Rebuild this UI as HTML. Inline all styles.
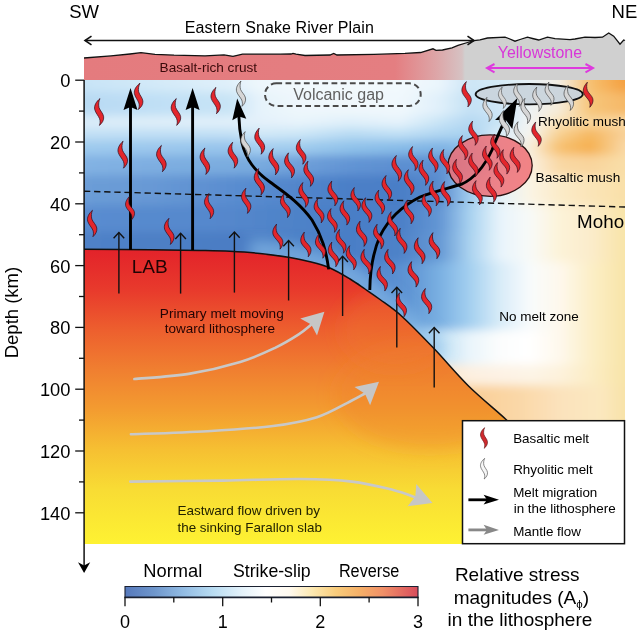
<!DOCTYPE html>
<html><head><meta charset="utf-8"><title>Snake River Plain lithosphere</title>
<style>html,body{margin:0;padding:0;background:#fff;}svg{display:block;}</style>
</head><body>
<svg width="640" height="633" viewBox="0 0 640 633" font-family="'Liberation Sans', Arial, sans-serif">
<defs>
 <filter id="blur1" x="-20%" y="-20%" width="140%" height="140%"><feGaussianBlur stdDeviation="9"/></filter>
 <filter id="blur2" x="-20%" y="-20%" width="140%" height="140%"><feGaussianBlur stdDeviation="5"/></filter>
 <filter id="blur3" x="-20%" y="-20%" width="140%" height="140%"><feGaussianBlur stdDeviation="7"/></filter>
 <clipPath id="plotclip"><rect x="84" y="80" width="541" height="464"/></clipPath>
 <linearGradient id="crustg" x1="84" y1="0" x2="625" y2="0" gradientUnits="userSpaceOnUse">
   <stop offset="0" stop-color="#e47b7e"/>
   <stop offset="0.5749" stop-color="#e47e81"/>
   <stop offset="0.6525" stop-color="#dda6a8"/>
   <stop offset="0.6987" stop-color="#d6c2c3"/>
   <stop offset="0.7042" stop-color="#d0d0d0"/>
   <stop offset="1" stop-color="#d0d0d0"/>
 </linearGradient>
 <linearGradient id="wedgeg" x1="0" y1="250" x2="0" y2="544" gradientUnits="userSpaceOnUse">
   <stop offset="0" stop-color="#e3232a"/>
   <stop offset="0.136" stop-color="#e83a2c"/>
   <stop offset="0.272" stop-color="#ed5f2e"/>
   <stop offset="0.408" stop-color="#f07f30"/>
   <stop offset="0.544" stop-color="#f39c30"/>
   <stop offset="0.68" stop-color="#f6c032"/>
   <stop offset="0.816" stop-color="#f8dc34"/>
   <stop offset="1" stop-color="#fef232"/>
 </linearGradient>
 <linearGradient id="cbarg" x1="125" y1="0" x2="418" y2="0" gradientUnits="userSpaceOnUse">
   <stop offset="0" stop-color="#5679bc"/>
   <stop offset="0.1" stop-color="#6e96cc"/>
   <stop offset="0.2" stop-color="#92bce4"/>
   <stop offset="0.3" stop-color="#b8dcf2"/>
   <stop offset="0.4" stop-color="#e4f2fa"/>
   <stop offset="0.48" stop-color="#ffffff"/>
   <stop offset="0.56" stop-color="#fffaf0"/>
   <stop offset="0.64" stop-color="#fce8b0"/>
   <stop offset="0.72" stop-color="#f8cc7c"/>
   <stop offset="0.8" stop-color="#f5b068"/>
   <stop offset="0.88" stop-color="#f09068"/>
   <stop offset="1" stop-color="#d84c5c"/>
 </linearGradient>
</defs>

<defs><linearGradient id="bg0" x1="84" y1="0" x2="625" y2="0" gradientUnits="userSpaceOnUse"><stop offset="0.0000" stop-color="#c8e4f7"/><stop offset="0.1220" stop-color="#d2e9f8"/><stop offset="0.2699" stop-color="#e0f0fa"/><stop offset="0.3253" stop-color="#eef7fc"/><stop offset="0.3993" stop-color="#f2f9fd"/><stop offset="0.4917" stop-color="#f2f9fd"/><stop offset="0.5841" stop-color="#f2f9fd"/><stop offset="0.6580" stop-color="#eaf5fc"/><stop offset="0.7135" stop-color="#cde5f6"/><stop offset="0.7689" stop-color="#d4eaf7"/><stop offset="0.8244" stop-color="#e8f2f6"/><stop offset="0.8799" stop-color="#f3ede2"/><stop offset="0.9353" stop-color="#f7c070"/><stop offset="1.0000" stop-color="#f4a040"/></linearGradient><linearGradient id="bg1" x1="84" y1="0" x2="625" y2="0" gradientUnits="userSpaceOnUse"><stop offset="0.0000" stop-color="#b8daf3"/><stop offset="0.1220" stop-color="#bfdff5"/><stop offset="0.2699" stop-color="#c8e4f6"/><stop offset="0.3253" stop-color="#e6f3fb"/><stop offset="0.3993" stop-color="#eef7fc"/><stop offset="0.4917" stop-color="#eff7fc"/><stop offset="0.5841" stop-color="#f0f8fd"/><stop offset="0.6580" stop-color="#e0f0fa"/><stop offset="0.7135" stop-color="#c4e1f5"/><stop offset="0.7689" stop-color="#cfe6f6"/><stop offset="0.8244" stop-color="#eef3f4"/><stop offset="0.8799" stop-color="#f6ebd8"/><stop offset="0.9353" stop-color="#f7c67a"/><stop offset="1.0000" stop-color="#f5b868"/></linearGradient><linearGradient id="bg2" x1="84" y1="0" x2="625" y2="0" gradientUnits="userSpaceOnUse"><stop offset="0.0000" stop-color="#dcedf9"/><stop offset="0.1220" stop-color="#e0eff9"/><stop offset="0.2699" stop-color="#e2f0fa"/><stop offset="0.3253" stop-color="#e4f1fa"/><stop offset="0.3993" stop-color="#e8f4fb"/><stop offset="0.4917" stop-color="#dff0fa"/><stop offset="0.5841" stop-color="#e6f3fb"/><stop offset="0.6580" stop-color="#c8e4f6"/><stop offset="0.7135" stop-color="#b4d8f2"/><stop offset="0.7689" stop-color="#c8e4f5"/><stop offset="0.8244" stop-color="#f4f6f4"/><stop offset="0.8799" stop-color="#fae2b6"/><stop offset="0.9353" stop-color="#f8d49a"/><stop offset="1.0000" stop-color="#f9d9a2"/></linearGradient><linearGradient id="bg3" x1="84" y1="0" x2="625" y2="0" gradientUnits="userSpaceOnUse"><stop offset="0.0000" stop-color="#c2e0f5"/><stop offset="0.1220" stop-color="#c0dff5"/><stop offset="0.2699" stop-color="#c2e0f5"/><stop offset="0.3253" stop-color="#d0e8f7"/><stop offset="0.3993" stop-color="#cce6f7"/><stop offset="0.4917" stop-color="#b8dbf3"/><stop offset="0.5841" stop-color="#c0e0f5"/><stop offset="0.6580" stop-color="#b0d6f2"/><stop offset="0.7135" stop-color="#a8d2f0"/><stop offset="0.7689" stop-color="#dcedf8"/><stop offset="0.8244" stop-color="#f6f5f0"/><stop offset="0.8799" stop-color="#f8d090"/><stop offset="0.9353" stop-color="#f6b860"/><stop offset="1.0000" stop-color="#f8d098"/></linearGradient><linearGradient id="bg4" x1="84" y1="0" x2="625" y2="0" gradientUnits="userSpaceOnUse"><stop offset="0.0000" stop-color="#9ecaee"/><stop offset="0.1220" stop-color="#9cc8ed"/><stop offset="0.2699" stop-color="#98c5ec"/><stop offset="0.3253" stop-color="#a6cff0"/><stop offset="0.3993" stop-color="#a0ccee"/><stop offset="0.4917" stop-color="#90c2ea"/><stop offset="0.5841" stop-color="#88bce8"/><stop offset="0.6580" stop-color="#80b4e4"/><stop offset="0.7135" stop-color="#8cbde8"/><stop offset="0.7689" stop-color="#d0e8f7"/><stop offset="0.8244" stop-color="#f9efdc"/><stop offset="0.8799" stop-color="#f7c070"/><stop offset="0.9353" stop-color="#f5b050"/><stop offset="1.0000" stop-color="#f9d8a6"/></linearGradient><linearGradient id="bg5" x1="84" y1="0" x2="625" y2="0" gradientUnits="userSpaceOnUse"><stop offset="0.0000" stop-color="#82b2e3"/><stop offset="0.1220" stop-color="#7eaee1"/><stop offset="0.2699" stop-color="#7aacdf"/><stop offset="0.3253" stop-color="#78aadf"/><stop offset="0.3993" stop-color="#6e9fd9"/><stop offset="0.4917" stop-color="#6294d4"/><stop offset="0.5841" stop-color="#5c8fd1"/><stop offset="0.6580" stop-color="#5e90d2"/><stop offset="0.7135" stop-color="#80b4e4"/><stop offset="0.7689" stop-color="#cfe7f7"/><stop offset="0.8244" stop-color="#faf0e0"/><stop offset="0.8799" stop-color="#f9d8a4"/><stop offset="0.9353" stop-color="#f9d49c"/><stop offset="1.0000" stop-color="#f9dea8"/></linearGradient><linearGradient id="bg6" x1="84" y1="0" x2="625" y2="0" gradientUnits="userSpaceOnUse"><stop offset="0.0000" stop-color="#6c9dd7"/><stop offset="0.1220" stop-color="#6899d5"/><stop offset="0.2699" stop-color="#5a8dd0"/><stop offset="0.3253" stop-color="#568ace"/><stop offset="0.3993" stop-color="#5185cb"/><stop offset="0.4917" stop-color="#4b7fc7"/><stop offset="0.5841" stop-color="#4a7ec6"/><stop offset="0.6580" stop-color="#5a8ccf"/><stop offset="0.7135" stop-color="#a0ccee"/><stop offset="0.7689" stop-color="#e4f2fa"/><stop offset="0.8244" stop-color="#fbf4e4"/><stop offset="0.8799" stop-color="#fbebc8"/><stop offset="0.9353" stop-color="#fae4b8"/><stop offset="1.0000" stop-color="#f9e0a8"/></linearGradient><linearGradient id="bg7" x1="84" y1="0" x2="625" y2="0" gradientUnits="userSpaceOnUse"><stop offset="0.0000" stop-color="#5a8cd0"/><stop offset="0.1220" stop-color="#578ace"/><stop offset="0.2699" stop-color="#5487cc"/><stop offset="0.3253" stop-color="#5185ca"/><stop offset="0.3993" stop-color="#4e82c8"/><stop offset="0.4917" stop-color="#4a7ec6"/><stop offset="0.5841" stop-color="#4b7fc7"/><stop offset="0.6580" stop-color="#6396d4"/><stop offset="0.7135" stop-color="#a8d2f0"/><stop offset="0.7689" stop-color="#e8f4fb"/><stop offset="0.8244" stop-color="#f8faf8"/><stop offset="0.8799" stop-color="#fdf3d8"/><stop offset="0.9353" stop-color="#fbeccc"/><stop offset="1.0000" stop-color="#f8e4a8"/></linearGradient><linearGradient id="bg8" x1="84" y1="0" x2="625" y2="0" gradientUnits="userSpaceOnUse"><stop offset="0.0000" stop-color="#4f81c7"/><stop offset="0.1220" stop-color="#4d7fc5"/><stop offset="0.2699" stop-color="#4b7dc4"/><stop offset="0.3253" stop-color="#4b7ec5"/><stop offset="0.3993" stop-color="#4c80c6"/><stop offset="0.4917" stop-color="#4a7ec6"/><stop offset="0.5841" stop-color="#4e82c8"/><stop offset="0.6580" stop-color="#6699d5"/><stop offset="0.7135" stop-color="#aad3f0"/><stop offset="0.7689" stop-color="#e8f4fb"/><stop offset="0.8244" stop-color="#f8faf8"/><stop offset="0.8799" stop-color="#fdf3d8"/><stop offset="0.9353" stop-color="#fbeccc"/><stop offset="1.0000" stop-color="#f8e4a8"/></linearGradient><linearGradient id="bg9" x1="84" y1="0" x2="625" y2="0" gradientUnits="userSpaceOnUse"><stop offset="0.0000" stop-color="#5588cd"/><stop offset="0.3993" stop-color="#5185cb"/><stop offset="0.5471" stop-color="#5488ce"/><stop offset="0.6026" stop-color="#5f95d4"/><stop offset="0.6580" stop-color="#7ab0e2"/><stop offset="0.7135" stop-color="#a4d0f0"/><stop offset="0.7689" stop-color="#d8ecf8"/><stop offset="0.8244" stop-color="#f8fbfc"/><stop offset="0.8799" stop-color="#fef8ec"/><stop offset="0.9353" stop-color="#fcefc8"/><stop offset="1.0000" stop-color="#f8e4a8"/></linearGradient><linearGradient id="bg10" x1="84" y1="0" x2="625" y2="0" gradientUnits="userSpaceOnUse"><stop offset="0.0000" stop-color="#9ccaee"/><stop offset="0.5841" stop-color="#94c4ec"/><stop offset="0.6580" stop-color="#c4e2f5"/><stop offset="0.7135" stop-color="#eaf5fb"/><stop offset="0.7689" stop-color="#fcfdfd"/><stop offset="0.8244" stop-color="#ffffff"/><stop offset="0.8799" stop-color="#fef8ec"/><stop offset="0.9353" stop-color="#fcefc8"/><stop offset="1.0000" stop-color="#f8e4a8"/></linearGradient><linearGradient id="bg11" x1="84" y1="0" x2="625" y2="0" gradientUnits="userSpaceOnUse"><stop offset="0.0000" stop-color="#f9d29a"/><stop offset="0.6580" stop-color="#fbe6cc"/><stop offset="0.7135" stop-color="#fdf0e0"/><stop offset="0.7689" stop-color="#fdf2e4"/><stop offset="0.8244" stop-color="#fdf4e6"/><stop offset="0.8799" stop-color="#fdf2dc"/><stop offset="0.9353" stop-color="#fcedc6"/><stop offset="1.0000" stop-color="#f8e4a8"/></linearGradient><linearGradient id="bg12" x1="84" y1="0" x2="625" y2="0" gradientUnits="userSpaceOnUse"><stop offset="0.0000" stop-color="#f9d29a"/><stop offset="0.6580" stop-color="#f9d29a"/><stop offset="0.7320" stop-color="#f9d09a"/><stop offset="0.8059" stop-color="#fad8a8"/><stop offset="0.8799" stop-color="#fbe2bc"/><stop offset="0.9538" stop-color="#fbe8c0"/><stop offset="1.0000" stop-color="#f8e2a8"/></linearGradient></defs>
<g clip-path="url(#plotclip)"><g filter="url(#blur2)"><rect x="40" y="40" width="640" height="52" fill="url(#bg0)"/><rect x="40" y="92" width="640" height="24" fill="url(#bg1)"/><rect x="40" y="116" width="640" height="12" fill="url(#bg2)"/><rect x="40" y="128" width="640" height="12" fill="url(#bg3)"/><rect x="40" y="140" width="640" height="15" fill="url(#bg4)"/><rect x="40" y="155" width="640" height="20" fill="url(#bg5)"/><rect x="40" y="175" width="640" height="30" fill="url(#bg6)"/><rect x="40" y="205" width="640" height="27" fill="url(#bg7)"/><rect x="40" y="232" width="640" height="30" fill="url(#bg8)"/><rect x="40" y="262" width="640" height="68" fill="url(#bg9)"/><rect x="40" y="330" width="640" height="35" fill="url(#bg10)"/><rect x="40" y="365" width="640" height="20" fill="url(#bg11)"/><rect x="40" y="385" width="640" height="175" fill="url(#bg12)"/></g><path d="M250,250 C256.7,250.8 276.7,252.3 290,255 C303.3,257.7 317.5,260.8 330,266 C342.5,271.2 353.3,277.7 365,286 C376.7,294.3 387.5,304.5 400,316 C412.5,327.5 433.3,348.5 440,355" fill="none" stroke="#8cc0ea" stroke-width="22" stroke-opacity="0.6" filter="url(#blur3)"/></g>
<path d="M84,249.2 C95.0,249.3 130.7,249.6 150,249.8 C169.3,250.0 186.7,250.2 200,250.4 C213.3,250.7 220.0,250.8 230,251.3 C240.0,251.8 250.0,252.4 260,253.5 C270.0,254.6 281.7,256.2 290,257.6 C298.3,259.0 303.3,260.1 310,261.8 C316.7,263.5 323.3,265.1 330,268 C336.7,270.9 344.2,275.5 350,279 C355.8,282.5 360.0,285.6 365,289 C370.0,292.4 373.8,294.9 380,299.5 C386.2,304.1 393.0,308.3 402,316.5 C411.0,324.7 422.9,337.0 434,348.6 C445.1,360.2 456.5,374.2 468.5,386 C480.5,397.8 495.8,410.0 506,419.5 C516.2,429.0 521.0,434.6 530,443 C539.0,451.4 555.0,465.5 560,470 L640,560 L625,544 L84,544 Z" fill="url(#wedgeg)" clip-path="url(#plotclip)"/>
<clipPath id="wedgeclip"><path d="M84,249.2 C95.0,249.3 130.7,249.6 150,249.8 C169.3,250.0 186.7,250.2 200,250.4 C213.3,250.7 220.0,250.8 230,251.3 C240.0,251.8 250.0,252.4 260,253.5 C270.0,254.6 281.7,256.2 290,257.6 C298.3,259.0 303.3,260.1 310,261.8 C316.7,263.5 323.3,265.1 330,268 C336.7,270.9 344.2,275.5 350,279 C355.8,282.5 360.0,285.6 365,289 C370.0,292.4 373.8,294.9 380,299.5 C386.2,304.1 393.0,308.3 402,316.5 C411.0,324.7 422.9,337.0 434,348.6 C445.1,360.2 456.5,374.2 468.5,386 C480.5,397.8 495.8,410.0 506,419.5 C516.2,429.0 521.0,434.6 530,443 C539.0,451.4 555.0,465.5 560,470 L640,560 L625,544 L84,544 Z"/></clipPath>
<g clip-path="url(#wedgeclip)"><ellipse cx="430" cy="395" rx="95" ry="55" fill="#ef7e2c" fill-opacity="0.35" filter="url(#blur1)"/><ellipse cx="395" cy="330" rx="55" ry="40" fill="#f07a30" fill-opacity="0.3" filter="url(#blur1)"/></g>
<path d="M84,249.2 C95.0,249.3 130.7,249.6 150,249.8 C169.3,250.0 186.7,250.2 200,250.4 C213.3,250.7 220.0,250.8 230,251.3 C240.0,251.8 250.0,252.4 260,253.5 C270.0,254.6 281.7,256.2 290,257.6 C298.3,259.0 303.3,260.1 310,261.8 C316.7,263.5 323.3,265.1 330,268 C336.7,270.9 344.2,275.5 350,279 C355.8,282.5 360.0,285.6 365,289 C370.0,292.4 373.8,294.9 380,299.5 C386.2,304.1 393.0,308.3 402,316.5 C411.0,324.7 422.9,337.0 434,348.6 C445.1,360.2 456.5,374.2 468.5,386 C480.5,397.8 495.8,410.0 506,419.5 C516.2,429.0 521.0,434.6 530,443 C539.0,451.4 555.0,465.5 560,470 L640,560" fill="none" stroke="#111" stroke-width="1.5" clip-path="url(#plotclip)"/>
<path d="M84,58 L111,55.9 L130,54 L141,52.7 L155,54.3 L174,55.2 L205,55.9 L224,54.9 L233,56.3 L242.5,54.2 L280,54.2 L291,54 L293,53.4 L296,54.2 L305,55.5 L330,55 L333.7,53.5 L337,55 L374,54.4 L405,53.4 L420.6,52.5 L433,48.8 L436,50.3 L442.5,50 L452,47.8 L458,45.3 L467.5,42.5 L474,40.6 L480,39.8 L487.5,38 L505,37.2 L508.7,38.5 L515,41.2 L520,39.5 L527.5,37.2 L532.5,38.5 L538.7,40 L547.5,37.2 L555,38.7 L570,39.7 L575,39 L585,37.2 L595,37.5 L602.5,37.2 L608.7,33 L613.7,36.2 L620,44.2 L623.7,40 L625,40.5 L625,80 L84,80 Z" fill="url(#crustg)"/>
<path d="M84,58 L111,55.9 L130,54 L141,52.7 L155,54.3 L174,55.2 L205,55.9 L224,54.9 L233,56.3 L242.5,54.2 L280,54.2 L291,54 L293,53.4 L296,54.2 L305,55.5 L330,55 L333.7,53.5 L337,55 L374,54.4 L405,53.4 L420.6,52.5 L433,48.8 L436,50.3 L442.5,50 L452,47.8 L458,45.3 L467.5,42.5 L474,40.6 L480,39.8 L487.5,38 L505,37.2 L508.7,38.5 L515,41.2 L520,39.5 L527.5,37.2 L532.5,38.5 L538.7,40 L547.5,37.2 L555,38.7 L570,39.7 L575,39 L585,37.2 L595,37.5 L602.5,37.2 L608.7,33 L613.7,36.2 L620,44.2 L623.7,40 L625,40.5" fill="none" stroke="#111" stroke-width="1.3"/>
<line x1="84" y1="191.2" x2="625" y2="207" stroke="#111" stroke-width="1.4" stroke-dasharray="6.3,3.8"/>
<rect x="265" y="83.3" width="155.7" height="22.6" rx="11.3" fill="none" stroke="#4a4a4a" stroke-width="2" stroke-dasharray="5.8,3.4"/>
<ellipse cx="490.1" cy="165.6" rx="42.1" ry="30.7" fill="#f06e74" fill-opacity="0.84" stroke="#2a1010" stroke-width="1.3"/>
<ellipse cx="529.2" cy="94.2" rx="53.6" ry="10.2" fill="#c9d4dc" fill-opacity="0.95" stroke="#111" stroke-width="1.8"/>
<line x1="118.9" y1="232.8" x2="118.9" y2="293.5" stroke="#111" stroke-width="1.4"/>
<path d="M113.6,238.3 L118.9,232.6 L124.2,238.3" fill="none" stroke="#111" stroke-width="1.4"/>
<line x1="180.6" y1="233.5" x2="180.6" y2="293.6" stroke="#111" stroke-width="1.4"/>
<path d="M175.3,239.0 L180.6,233.3 L185.9,239.0" fill="none" stroke="#111" stroke-width="1.4"/>
<line x1="234.4" y1="232.3" x2="234.4" y2="292.6" stroke="#111" stroke-width="1.4"/>
<path d="M229.1,237.8 L234.4,232.1 L239.7,237.8" fill="none" stroke="#111" stroke-width="1.4"/>
<line x1="288.6" y1="240.8" x2="288.6" y2="300.5" stroke="#111" stroke-width="1.4"/>
<path d="M283.3,246.3 L288.6,240.6 L293.9,246.3" fill="none" stroke="#111" stroke-width="1.4"/>
<line x1="342.6" y1="256.5" x2="342.6" y2="316" stroke="#111" stroke-width="1.4"/>
<path d="M337.3,262.0 L342.6,256.3 L347.9,262.0" fill="none" stroke="#111" stroke-width="1.4"/>
<line x1="396.8" y1="287.5" x2="396.8" y2="347.5" stroke="#111" stroke-width="1.4"/>
<path d="M391.5,293.0 L396.8,287.3 L402.1,293.0" fill="none" stroke="#111" stroke-width="1.4"/>
<line x1="434.2" y1="327.8" x2="434.2" y2="387.5" stroke="#111" stroke-width="1.4"/>
<path d="M428.9,333.3 L434.2,327.6 L439.5,333.3" fill="none" stroke="#111" stroke-width="1.4"/>
<path d="M134.4,379 C143.4,378.1 171.0,376.8 188.7,373.9 C206.3,371.0 226.0,366.2 240.3,361.9 C254.6,357.6 264.9,352.7 274.6,348.1 C284.3,343.5 292.5,338.4 298.7,334.4 C304.9,330.4 309.8,325.7 312,324" fill="none" stroke="#c8c8c8" stroke-width="2.6" stroke-linecap="round"/>
<path d="M324.4,311.7 L317.0,335.6 L311.2,324.5 L300.3,318.4 Z" fill="#c6c6c6"/>
<path d="M130.9,434.3 C143.7,433.8 183.8,432.6 207.5,431.2 C231.2,429.8 254.9,428.3 273.1,426 C291.3,423.7 304.5,421.1 316.9,417.2 C329.3,413.3 339.3,406.8 347.5,402.8 C355.7,398.8 362.9,394.6 366,393" fill="none" stroke="#c8c8c8" stroke-width="2.6" stroke-linecap="round"/>
<path d="M379.0,381.8 L370.1,405.2 L365.0,393.8 L354.5,387.0 Z" fill="#c6c6c6"/>
<path d="M130.3,481.6 C145.8,481.4 194.7,481.0 223,480.6 C251.3,480.2 278.9,478.8 300.4,479 C321.9,479.2 336.5,479.8 352,481.6 C367.5,483.4 382.6,487.4 393.2,490 C403.8,492.6 411.8,496.2 415.5,497.5" fill="none" stroke="#c8c8c8" stroke-width="2.6" stroke-linecap="round"/>
<path d="M432.5,503.1 L407.6,506.3 L415.3,496.4 L416.3,483.9 Z" fill="#c6c6c6"/>
<line x1="130.5" y1="250" x2="130.5" y2="104" stroke="#000" stroke-width="2.9"/>
<path d="M130.5,88.0 L137.5,110.0 L130.5,107.0 L123.5,110.0 Z" fill="#000"/>
<line x1="192.6" y1="250" x2="192.6" y2="104" stroke="#000" stroke-width="2.9"/>
<path d="M192.6,88.0 L199.6,110.0 L192.6,107.0 L185.6,110.0 Z" fill="#000"/>
<path d="M328.7,269.4 C326,250 322,236 312,220 C300,203 285,193 270,182 C255,171 246,160 242,143 C240,133 239,124 238.8,115" fill="none" stroke="#000" stroke-width="2.9"/>
<path d="M237.2,98.6 L246.3,118.8 L239.0,116.5 L232.3,120.2 Z" fill="#000"/>
<path d="M369.8,290 C370,270 374,250 380,236 C388,220 400,207 420,197 C435,191 450,188 462,184 C475,178 485,165 492,150 C496,140 500,130 505.1,120" fill="none" stroke="#000" stroke-width="2.9"/>
<path d="M517.4,97.9 L512.3,129.0 L505.9,120.1 L495.0,120.1 Z" fill="#000"/>
<path transform="translate(99.4,112.0) rotate(-0.0) scale(0.993)" d="M0.6,-13.5 C-3,-10.6 -5.6,-6.6 -4.7,-2.5 C-3.9,0.8 -1,3.8 0.2,6.8 C1,9.2 0.8,11.5 0,13.5 C2.9,11.2 4.7,8 4.3,4.8 C3.9,1.5 0.7,-1.2 -0.4,-4.5 C-1.1,-7.5 -0.7,-11 0.6,-13.5 Z" fill="#e3262c" stroke="#2c0c1c" stroke-width="0.7"/>
<path transform="translate(138.9,96.3) rotate(2.2) scale(0.974)" d="M0.6,-13.5 C-3,-10.6 -5.6,-6.6 -4.7,-2.5 C-3.9,0.8 -1,3.8 0.2,6.8 C1,9.2 0.8,11.5 0,13.5 C2.9,11.2 4.7,8 4.3,4.8 C3.9,1.5 0.7,-1.2 -0.4,-4.5 C-1.1,-7.5 -0.7,-11 0.6,-13.5 Z" fill="#e3262c" stroke="#2c0c1c" stroke-width="0.7"/>
<path transform="translate(176.2,112.0) rotate(-2.1) scale(0.993)" d="M0.6,-13.5 C-3,-10.6 -5.6,-6.6 -4.7,-2.5 C-3.9,0.8 -1,3.8 0.2,6.8 C1,9.2 0.8,11.5 0,13.5 C2.9,11.2 4.7,8 4.3,4.8 C3.9,1.5 0.7,-1.2 -0.4,-4.5 C-1.1,-7.5 -0.7,-11 0.6,-13.5 Z" fill="#e3262c" stroke="#2c0c1c" stroke-width="0.7"/>
<path transform="translate(215.9,100.6) rotate(-2.2) scale(0.978)" d="M0.6,-13.5 C-3,-10.6 -5.6,-6.6 -4.7,-2.5 C-3.9,0.8 -1,3.8 0.2,6.8 C1,9.2 0.8,11.5 0,13.5 C2.9,11.2 4.7,8 4.3,4.8 C3.9,1.5 0.7,-1.2 -0.4,-4.5 C-1.1,-7.5 -0.7,-11 0.6,-13.5 Z" fill="#e3262c" stroke="#2c0c1c" stroke-width="0.7"/>
<path transform="translate(123.0,154.7) rotate(-2.1) scale(1.000)" d="M0.6,-13.5 C-3,-10.6 -5.6,-6.6 -4.7,-2.5 C-3.9,0.8 -1,3.8 0.2,6.8 C1,9.2 0.8,11.5 0,13.5 C2.9,11.2 4.7,8 4.3,4.8 C3.9,1.5 0.7,-1.2 -0.4,-4.5 C-1.1,-7.5 -0.7,-11 0.6,-13.5 Z" fill="#e3262c" stroke="#2c0c1c" stroke-width="0.7"/>
<path transform="translate(161.6,158.6) rotate(-3.3) scale(0.978)" d="M0.6,-13.5 C-3,-10.6 -5.6,-6.6 -4.7,-2.5 C-3.9,0.8 -1,3.8 0.2,6.8 C1,9.2 0.8,11.5 0,13.5 C2.9,11.2 4.7,8 4.3,4.8 C3.9,1.5 0.7,-1.2 -0.4,-4.5 C-1.1,-7.5 -0.7,-11 0.6,-13.5 Z" fill="#e3262c" stroke="#2c0c1c" stroke-width="0.7"/>
<path transform="translate(205.1,161.2) rotate(-3.2) scale(0.981)" d="M0.6,-13.5 C-3,-10.6 -5.6,-6.6 -4.7,-2.5 C-3.9,0.8 -1,3.8 0.2,6.8 C1,9.2 0.8,11.5 0,13.5 C2.9,11.2 4.7,8 4.3,4.8 C3.9,1.5 0.7,-1.2 -0.4,-4.5 C-1.1,-7.5 -0.7,-11 0.6,-13.5 Z" fill="#e3262c" stroke="#2c0c1c" stroke-width="0.7"/>
<path transform="translate(92.4,223.5) rotate(-2.2) scale(0.978)" d="M0.6,-13.5 C-3,-10.6 -5.6,-6.6 -4.7,-2.5 C-3.9,0.8 -1,3.8 0.2,6.8 C1,9.2 0.8,11.5 0,13.5 C2.9,11.2 4.7,8 4.3,4.8 C3.9,1.5 0.7,-1.2 -0.4,-4.5 C-1.1,-7.5 -0.7,-11 0.6,-13.5 Z" fill="#e3262c" stroke="#2c0c1c" stroke-width="0.7"/>
<path transform="translate(130.2,208.2) rotate(-7.4) scale(0.859)" d="M0.6,-13.5 C-3,-10.6 -5.6,-6.6 -4.7,-2.5 C-3.9,0.8 -1,3.8 0.2,6.8 C1,9.2 0.8,11.5 0,13.5 C2.9,11.2 4.7,8 4.3,4.8 C3.9,1.5 0.7,-1.2 -0.4,-4.5 C-1.1,-7.5 -0.7,-11 0.6,-13.5 Z" fill="#e3262c" stroke="#2c0c1c" stroke-width="0.7"/>
<path transform="translate(169.4,231.4) rotate(-4.4) scale(0.970)" d="M0.6,-13.5 C-3,-10.6 -5.6,-6.6 -4.7,-2.5 C-3.9,0.8 -1,3.8 0.2,6.8 C1,9.2 0.8,11.5 0,13.5 C2.9,11.2 4.7,8 4.3,4.8 C3.9,1.5 0.7,-1.2 -0.4,-4.5 C-1.1,-7.5 -0.7,-11 0.6,-13.5 Z" fill="#e3262c" stroke="#2c0c1c" stroke-width="0.7"/>
<path transform="translate(209.3,206.1) rotate(-3.4) scale(0.941)" d="M0.6,-13.5 C-3,-10.6 -5.6,-6.6 -4.7,-2.5 C-3.9,0.8 -1,3.8 0.2,6.8 C1,9.2 0.8,11.5 0,13.5 C2.9,11.2 4.7,8 4.3,4.8 C3.9,1.5 0.7,-1.2 -0.4,-4.5 C-1.1,-7.5 -0.7,-11 0.6,-13.5 Z" fill="#e3262c" stroke="#2c0c1c" stroke-width="0.7"/>
<path transform="translate(233.1,155.2) rotate(-4.4) scale(0.963)" d="M0.6,-13.5 C-3,-10.6 -5.6,-6.6 -4.7,-2.5 C-3.9,0.8 -1,3.8 0.2,6.8 C1,9.2 0.8,11.5 0,13.5 C2.9,11.2 4.7,8 4.3,4.8 C3.9,1.5 0.7,-1.2 -0.4,-4.5 C-1.1,-7.5 -0.7,-11 0.6,-13.5 Z" fill="#e3262c" stroke="#2c0c1c" stroke-width="0.7"/>
<path transform="translate(259.9,141.2) rotate(-5.5) scale(0.970)" d="M0.6,-13.5 C-3,-10.6 -5.6,-6.6 -4.7,-2.5 C-3.9,0.8 -1,3.8 0.2,6.8 C1,9.2 0.8,11.5 0,13.5 C2.9,11.2 4.7,8 4.3,4.8 C3.9,1.5 0.7,-1.2 -0.4,-4.5 C-1.1,-7.5 -0.7,-11 0.6,-13.5 Z" fill="#e3262c" stroke="#2c0c1c" stroke-width="0.7"/>
<path transform="translate(274.0,161.8) rotate(-5.8) scale(0.978)" d="M0.6,-13.5 C-3,-10.6 -5.6,-6.6 -4.7,-2.5 C-3.9,0.8 -1,3.8 0.2,6.8 C1,9.2 0.8,11.5 0,13.5 C2.9,11.2 4.7,8 4.3,4.8 C3.9,1.5 0.7,-1.2 -0.4,-4.5 C-1.1,-7.5 -0.7,-11 0.6,-13.5 Z" fill="#e3262c" stroke="#2c0c1c" stroke-width="0.7"/>
<path transform="translate(289.7,165.4) rotate(-7.9) scale(0.933)" d="M0.6,-13.5 C-3,-10.6 -5.6,-6.6 -4.7,-2.5 C-3.9,0.8 -1,3.8 0.2,6.8 C1,9.2 0.8,11.5 0,13.5 C2.9,11.2 4.7,8 4.3,4.8 C3.9,1.5 0.7,-1.2 -0.4,-4.5 C-1.1,-7.5 -0.7,-11 0.6,-13.5 Z" fill="#e3262c" stroke="#2c0c1c" stroke-width="0.7"/>
<path transform="translate(301.3,151.9) rotate(-6.9) scale(0.922)" d="M0.6,-13.5 C-3,-10.6 -5.6,-6.6 -4.7,-2.5 C-3.9,0.8 -1,3.8 0.2,6.8 C1,9.2 0.8,11.5 0,13.5 C2.9,11.2 4.7,8 4.3,4.8 C3.9,1.5 0.7,-1.2 -0.4,-4.5 C-1.1,-7.5 -0.7,-11 0.6,-13.5 Z" fill="#e3262c" stroke="#2c0c1c" stroke-width="0.7"/>
<path transform="translate(308.9,173.8) rotate(-6.8) scale(0.937)" d="M0.6,-13.5 C-3,-10.6 -5.6,-6.6 -4.7,-2.5 C-3.9,0.8 -1,3.8 0.2,6.8 C1,9.2 0.8,11.5 0,13.5 C2.9,11.2 4.7,8 4.3,4.8 C3.9,1.5 0.7,-1.2 -0.4,-4.5 C-1.1,-7.5 -0.7,-11 0.6,-13.5 Z" fill="#e3262c" stroke="#2c0c1c" stroke-width="0.7"/>
<path transform="translate(259.5,181.8) rotate(-6.5) scale(0.978)" d="M0.6,-13.5 C-3,-10.6 -5.6,-6.6 -4.7,-2.5 C-3.9,0.8 -1,3.8 0.2,6.8 C1,9.2 0.8,11.5 0,13.5 C2.9,11.2 4.7,8 4.3,4.8 C3.9,1.5 0.7,-1.2 -0.4,-4.5 C-1.1,-7.5 -0.7,-11 0.6,-13.5 Z" fill="#e3262c" stroke="#2c0c1c" stroke-width="0.7"/>
<path transform="translate(246.4,200.8) rotate(-4.5) scale(0.937)" d="M0.6,-13.5 C-3,-10.6 -5.6,-6.6 -4.7,-2.5 C-3.9,0.8 -1,3.8 0.2,6.8 C1,9.2 0.8,11.5 0,13.5 C2.9,11.2 4.7,8 4.3,4.8 C3.9,1.5 0.7,-1.2 -0.4,-4.5 C-1.1,-7.5 -0.7,-11 0.6,-13.5 Z" fill="#e3262c" stroke="#2c0c1c" stroke-width="0.7"/>
<path transform="translate(285.5,205.6) rotate(-9.3) scale(0.900)" d="M0.6,-13.5 C-3,-10.6 -5.6,-6.6 -4.7,-2.5 C-3.9,0.8 -1,3.8 0.2,6.8 C1,9.2 0.8,11.5 0,13.5 C2.9,11.2 4.7,8 4.3,4.8 C3.9,1.5 0.7,-1.2 -0.4,-4.5 C-1.1,-7.5 -0.7,-11 0.6,-13.5 Z" fill="#e3262c" stroke="#2c0c1c" stroke-width="0.7"/>
<path transform="translate(303.8,195.0) rotate(-6.8) scale(0.926)" d="M0.6,-13.5 C-3,-10.6 -5.6,-6.6 -4.7,-2.5 C-3.9,0.8 -1,3.8 0.2,6.8 C1,9.2 0.8,11.5 0,13.5 C2.9,11.2 4.7,8 4.3,4.8 C3.9,1.5 0.7,-1.2 -0.4,-4.5 C-1.1,-7.5 -0.7,-11 0.6,-13.5 Z" fill="#e3262c" stroke="#2c0c1c" stroke-width="0.7"/>
<path transform="translate(319.2,210.8) rotate(-9.3) scale(0.907)" d="M0.6,-13.5 C-3,-10.6 -5.6,-6.6 -4.7,-2.5 C-3.9,0.8 -1,3.8 0.2,6.8 C1,9.2 0.8,11.5 0,13.5 C2.9,11.2 4.7,8 4.3,4.8 C3.9,1.5 0.7,-1.2 -0.4,-4.5 C-1.1,-7.5 -0.7,-11 0.6,-13.5 Z" fill="#e3262c" stroke="#2c0c1c" stroke-width="0.7"/>
<path transform="translate(333.0,193.5) rotate(-8.0) scale(0.926)" d="M0.6,-13.5 C-3,-10.6 -5.6,-6.6 -4.7,-2.5 C-3.9,0.8 -1,3.8 0.2,6.8 C1,9.2 0.8,11.5 0,13.5 C2.9,11.2 4.7,8 4.3,4.8 C3.9,1.5 0.7,-1.2 -0.4,-4.5 C-1.1,-7.5 -0.7,-11 0.6,-13.5 Z" fill="#e3262c" stroke="#2c0c1c" stroke-width="0.7"/>
<path transform="translate(332.5,220.5) rotate(-9.5) scale(0.889)" d="M0.6,-13.5 C-3,-10.6 -5.6,-6.6 -4.7,-2.5 C-3.9,0.8 -1,3.8 0.2,6.8 C1,9.2 0.8,11.5 0,13.5 C2.9,11.2 4.7,8 4.3,4.8 C3.9,1.5 0.7,-1.2 -0.4,-4.5 C-1.1,-7.5 -0.7,-11 0.6,-13.5 Z" fill="#e3262c" stroke="#2c0c1c" stroke-width="0.7"/>
<path transform="translate(345.0,213.0) rotate(-8.2) scale(0.904)" d="M0.6,-13.5 C-3,-10.6 -5.6,-6.6 -4.7,-2.5 C-3.9,0.8 -1,3.8 0.2,6.8 C1,9.2 0.8,11.5 0,13.5 C2.9,11.2 4.7,8 4.3,4.8 C3.9,1.5 0.7,-1.2 -0.4,-4.5 C-1.1,-7.5 -0.7,-11 0.6,-13.5 Z" fill="#e3262c" stroke="#2c0c1c" stroke-width="0.7"/>
<path transform="translate(278.0,236.7) rotate(-9.0) scale(0.937)" d="M0.6,-13.5 C-3,-10.6 -5.6,-6.6 -4.7,-2.5 C-3.9,0.8 -1,3.8 0.2,6.8 C1,9.2 0.8,11.5 0,13.5 C2.9,11.2 4.7,8 4.3,4.8 C3.9,1.5 0.7,-1.2 -0.4,-4.5 C-1.1,-7.5 -0.7,-11 0.6,-13.5 Z" fill="#e3262c" stroke="#2c0c1c" stroke-width="0.7"/>
<path transform="translate(306.0,244.5) rotate(-10.2) scale(0.926)" d="M0.6,-13.5 C-3,-10.6 -5.6,-6.6 -4.7,-2.5 C-3.9,0.8 -1,3.8 0.2,6.8 C1,9.2 0.8,11.5 0,13.5 C2.9,11.2 4.7,8 4.3,4.8 C3.9,1.5 0.7,-1.2 -0.4,-4.5 C-1.1,-7.5 -0.7,-11 0.6,-13.5 Z" fill="#e3262c" stroke="#2c0c1c" stroke-width="0.7"/>
<path transform="translate(320.6,246.2) rotate(-10.4) scale(0.907)" d="M0.6,-13.5 C-3,-10.6 -5.6,-6.6 -4.7,-2.5 C-3.9,0.8 -1,3.8 0.2,6.8 C1,9.2 0.8,11.5 0,13.5 C2.9,11.2 4.7,8 4.3,4.8 C3.9,1.5 0.7,-1.2 -0.4,-4.5 C-1.1,-7.5 -0.7,-11 0.6,-13.5 Z" fill="#e3262c" stroke="#2c0c1c" stroke-width="0.7"/>
<path transform="translate(333.5,254.5) rotate(-10.2) scale(0.926)" d="M0.6,-13.5 C-3,-10.6 -5.6,-6.6 -4.7,-2.5 C-3.9,0.8 -1,3.8 0.2,6.8 C1,9.2 0.8,11.5 0,13.5 C2.9,11.2 4.7,8 4.3,4.8 C3.9,1.5 0.7,-1.2 -0.4,-4.5 C-1.1,-7.5 -0.7,-11 0.6,-13.5 Z" fill="#e3262c" stroke="#2c0c1c" stroke-width="0.7"/>
<path transform="translate(341.2,241.4) rotate(-10.6) scale(0.893)" d="M0.6,-13.5 C-3,-10.6 -5.6,-6.6 -4.7,-2.5 C-3.9,0.8 -1,3.8 0.2,6.8 C1,9.2 0.8,11.5 0,13.5 C2.9,11.2 4.7,8 4.3,4.8 C3.9,1.5 0.7,-1.2 -0.4,-4.5 C-1.1,-7.5 -0.7,-11 0.6,-13.5 Z" fill="#e3262c" stroke="#2c0c1c" stroke-width="0.7"/>
<path transform="translate(351.4,257.8) rotate(-10.4) scale(0.907)" d="M0.6,-13.5 C-3,-10.6 -5.6,-6.6 -4.7,-2.5 C-3.9,0.8 -1,3.8 0.2,6.8 C1,9.2 0.8,11.5 0,13.5 C2.9,11.2 4.7,8 4.3,4.8 C3.9,1.5 0.7,-1.2 -0.4,-4.5 C-1.1,-7.5 -0.7,-11 0.6,-13.5 Z" fill="#e3262c" stroke="#2c0c1c" stroke-width="0.7"/>
<path transform="translate(355.8,199.3) rotate(-9.6) scale(0.878)" d="M0.6,-13.5 C-3,-10.6 -5.6,-6.6 -4.7,-2.5 C-3.9,0.8 -1,3.8 0.2,6.8 C1,9.2 0.8,11.5 0,13.5 C2.9,11.2 4.7,8 4.3,4.8 C3.9,1.5 0.7,-1.2 -0.4,-4.5 C-1.1,-7.5 -0.7,-11 0.6,-13.5 Z" fill="#e3262c" stroke="#2c0c1c" stroke-width="0.7"/>
<path transform="translate(466.8,94.3) rotate(-4.5) scale(0.941)" d="M0.6,-13.5 C-3,-10.6 -5.6,-6.6 -4.7,-2.5 C-3.9,0.8 -1,3.8 0.2,6.8 C1,9.2 0.8,11.5 0,13.5 C2.9,11.2 4.7,8 4.3,4.8 C3.9,1.5 0.7,-1.2 -0.4,-4.5 C-1.1,-7.5 -0.7,-11 0.6,-13.5 Z" fill="#e3262c" stroke="#2c0c1c" stroke-width="0.7"/>
<path transform="translate(473.6,133.2) rotate(-7.0) scale(0.904)" d="M0.6,-13.5 C-3,-10.6 -5.6,-6.6 -4.7,-2.5 C-3.9,0.8 -1,3.8 0.2,6.8 C1,9.2 0.8,11.5 0,13.5 C2.9,11.2 4.7,8 4.3,4.8 C3.9,1.5 0.7,-1.2 -0.4,-4.5 C-1.1,-7.5 -0.7,-11 0.6,-13.5 Z" fill="#e3262c" stroke="#2c0c1c" stroke-width="0.7"/>
<path transform="translate(397.0,168.4) rotate(-5.5) scale(0.956)" d="M0.6,-13.5 C-3,-10.6 -5.6,-6.6 -4.7,-2.5 C-3.9,0.8 -1,3.8 0.2,6.8 C1,9.2 0.8,11.5 0,13.5 C2.9,11.2 4.7,8 4.3,4.8 C3.9,1.5 0.7,-1.2 -0.4,-4.5 C-1.1,-7.5 -0.7,-11 0.6,-13.5 Z" fill="#e3262c" stroke="#2c0c1c" stroke-width="0.7"/>
<path transform="translate(413.5,158.6) rotate(-7.1) scale(0.896)" d="M0.6,-13.5 C-3,-10.6 -5.6,-6.6 -4.7,-2.5 C-3.9,0.8 -1,3.8 0.2,6.8 C1,9.2 0.8,11.5 0,13.5 C2.9,11.2 4.7,8 4.3,4.8 C3.9,1.5 0.7,-1.2 -0.4,-4.5 C-1.1,-7.5 -0.7,-11 0.6,-13.5 Z" fill="#e3262c" stroke="#2c0c1c" stroke-width="0.7"/>
<path transform="translate(433.5,160.2) rotate(-7.0) scale(0.907)" d="M0.6,-13.5 C-3,-10.6 -5.6,-6.6 -4.7,-2.5 C-3.9,0.8 -1,3.8 0.2,6.8 C1,9.2 0.8,11.5 0,13.5 C2.9,11.2 4.7,8 4.3,4.8 C3.9,1.5 0.7,-1.2 -0.4,-4.5 C-1.1,-7.5 -0.7,-11 0.6,-13.5 Z" fill="#e3262c" stroke="#2c0c1c" stroke-width="0.7"/>
<path transform="translate(445.0,161.7) rotate(-8.1) scale(0.915)" d="M0.6,-13.5 C-3,-10.6 -5.6,-6.6 -4.7,-2.5 C-3.9,0.8 -1,3.8 0.2,6.8 C1,9.2 0.8,11.5 0,13.5 C2.9,11.2 4.7,8 4.3,4.8 C3.9,1.5 0.7,-1.2 -0.4,-4.5 C-1.1,-7.5 -0.7,-11 0.6,-13.5 Z" fill="#e3262c" stroke="#2c0c1c" stroke-width="0.7"/>
<path transform="translate(424.0,172.8) rotate(-6.8) scale(0.937)" d="M0.6,-13.5 C-3,-10.6 -5.6,-6.6 -4.7,-2.5 C-3.9,0.8 -1,3.8 0.2,6.8 C1,9.2 0.8,11.5 0,13.5 C2.9,11.2 4.7,8 4.3,4.8 C3.9,1.5 0.7,-1.2 -0.4,-4.5 C-1.1,-7.5 -0.7,-11 0.6,-13.5 Z" fill="#e3262c" stroke="#2c0c1c" stroke-width="0.7"/>
<path transform="translate(409.3,182.3) rotate(-6.8) scale(0.937)" d="M0.6,-13.5 C-3,-10.6 -5.6,-6.6 -4.7,-2.5 C-3.9,0.8 -1,3.8 0.2,6.8 C1,9.2 0.8,11.5 0,13.5 C2.9,11.2 4.7,8 4.3,4.8 C3.9,1.5 0.7,-1.2 -0.4,-4.5 C-1.1,-7.5 -0.7,-11 0.6,-13.5 Z" fill="#e3262c" stroke="#2c0c1c" stroke-width="0.7"/>
<path transform="translate(387.0,188.0) rotate(-6.8) scale(0.926)" d="M0.6,-13.5 C-3,-10.6 -5.6,-6.6 -4.7,-2.5 C-3.9,0.8 -1,3.8 0.2,6.8 C1,9.2 0.8,11.5 0,13.5 C2.9,11.2 4.7,8 4.3,4.8 C3.9,1.5 0.7,-1.2 -0.4,-4.5 C-1.1,-7.5 -0.7,-11 0.6,-13.5 Z" fill="#e3262c" stroke="#2c0c1c" stroke-width="0.7"/>
<path transform="translate(463.3,147.8) rotate(-7.0) scale(0.907)" d="M0.6,-13.5 C-3,-10.6 -5.6,-6.6 -4.7,-2.5 C-3.9,0.8 -1,3.8 0.2,6.8 C1,9.2 0.8,11.5 0,13.5 C2.9,11.2 4.7,8 4.3,4.8 C3.9,1.5 0.7,-1.2 -0.4,-4.5 C-1.1,-7.5 -0.7,-11 0.6,-13.5 Z" fill="#e3262c" stroke="#2c0c1c" stroke-width="0.7"/>
<path transform="translate(457.7,171.6) rotate(-8.0) scale(0.919)" d="M0.6,-13.5 C-3,-10.6 -5.6,-6.6 -4.7,-2.5 C-3.9,0.8 -1,3.8 0.2,6.8 C1,9.2 0.8,11.5 0,13.5 C2.9,11.2 4.7,8 4.3,4.8 C3.9,1.5 0.7,-1.2 -0.4,-4.5 C-1.1,-7.5 -0.7,-11 0.6,-13.5 Z" fill="#e3262c" stroke="#2c0c1c" stroke-width="0.7"/>
<path transform="translate(473.5,165.0) rotate(-8.3) scale(0.889)" d="M0.6,-13.5 C-3,-10.6 -5.6,-6.6 -4.7,-2.5 C-3.9,0.8 -1,3.8 0.2,6.8 C1,9.2 0.8,11.5 0,13.5 C2.9,11.2 4.7,8 4.3,4.8 C3.9,1.5 0.7,-1.2 -0.4,-4.5 C-1.1,-7.5 -0.7,-11 0.6,-13.5 Z" fill="#e3262c" stroke="#2c0c1c" stroke-width="0.7"/>
<path transform="translate(487.5,158.2) rotate(-8.1) scale(0.907)" d="M0.6,-13.5 C-3,-10.6 -5.6,-6.6 -4.7,-2.5 C-3.9,0.8 -1,3.8 0.2,6.8 C1,9.2 0.8,11.5 0,13.5 C2.9,11.2 4.7,8 4.3,4.8 C3.9,1.5 0.7,-1.2 -0.4,-4.5 C-1.1,-7.5 -0.7,-11 0.6,-13.5 Z" fill="#e3262c" stroke="#2c0c1c" stroke-width="0.7"/>
<path transform="translate(434.4,193.5) rotate(-8.0) scale(0.926)" d="M0.6,-13.5 C-3,-10.6 -5.6,-6.6 -4.7,-2.5 C-3.9,0.8 -1,3.8 0.2,6.8 C1,9.2 0.8,11.5 0,13.5 C2.9,11.2 4.7,8 4.3,4.8 C3.9,1.5 0.7,-1.2 -0.4,-4.5 C-1.1,-7.5 -0.7,-11 0.6,-13.5 Z" fill="#e3262c" stroke="#2c0c1c" stroke-width="0.7"/>
<path transform="translate(445.8,193.9) rotate(-8.0) scale(0.919)" d="M0.6,-13.5 C-3,-10.6 -5.6,-6.6 -4.7,-2.5 C-3.9,0.8 -1,3.8 0.2,6.8 C1,9.2 0.8,11.5 0,13.5 C2.9,11.2 4.7,8 4.3,4.8 C3.9,1.5 0.7,-1.2 -0.4,-4.5 C-1.1,-7.5 -0.7,-11 0.6,-13.5 Z" fill="#e3262c" stroke="#2c0c1c" stroke-width="0.7"/>
<path transform="translate(477.5,192.8) rotate(-9.3) scale(0.907)" d="M0.6,-13.5 C-3,-10.6 -5.6,-6.6 -4.7,-2.5 C-3.9,0.8 -1,3.8 0.2,6.8 C1,9.2 0.8,11.5 0,13.5 C2.9,11.2 4.7,8 4.3,4.8 C3.9,1.5 0.7,-1.2 -0.4,-4.5 C-1.1,-7.5 -0.7,-11 0.6,-13.5 Z" fill="#e3262c" stroke="#2c0c1c" stroke-width="0.7"/>
<path transform="translate(380.0,202.1) rotate(-8.2) scale(0.896)" d="M0.6,-13.5 C-3,-10.6 -5.6,-6.6 -4.7,-2.5 C-3.9,0.8 -1,3.8 0.2,6.8 C1,9.2 0.8,11.5 0,13.5 C2.9,11.2 4.7,8 4.3,4.8 C3.9,1.5 0.7,-1.2 -0.4,-4.5 C-1.1,-7.5 -0.7,-11 0.6,-13.5 Z" fill="#e3262c" stroke="#2c0c1c" stroke-width="0.7"/>
<path transform="translate(367.0,210.1) rotate(-9.1) scale(0.922)" d="M0.6,-13.5 C-3,-10.6 -5.6,-6.6 -4.7,-2.5 C-3.9,0.8 -1,3.8 0.2,6.8 C1,9.2 0.8,11.5 0,13.5 C2.9,11.2 4.7,8 4.3,4.8 C3.9,1.5 0.7,-1.2 -0.4,-4.5 C-1.1,-7.5 -0.7,-11 0.6,-13.5 Z" fill="#e3262c" stroke="#2c0c1c" stroke-width="0.7"/>
<path transform="translate(426.8,205.0) rotate(-9.8) scale(0.859)" d="M0.6,-13.5 C-3,-10.6 -5.6,-6.6 -4.7,-2.5 C-3.9,0.8 -1,3.8 0.2,6.8 C1,9.2 0.8,11.5 0,13.5 C2.9,11.2 4.7,8 4.3,4.8 C3.9,1.5 0.7,-1.2 -0.4,-4.5 C-1.1,-7.5 -0.7,-11 0.6,-13.5 Z" fill="#e3262c" stroke="#2c0c1c" stroke-width="0.7"/>
<path transform="translate(409.0,211.9) rotate(-9.4) scale(0.896)" d="M0.6,-13.5 C-3,-10.6 -5.6,-6.6 -4.7,-2.5 C-3.9,0.8 -1,3.8 0.2,6.8 C1,9.2 0.8,11.5 0,13.5 C2.9,11.2 4.7,8 4.3,4.8 C3.9,1.5 0.7,-1.2 -0.4,-4.5 C-1.1,-7.5 -0.7,-11 0.6,-13.5 Z" fill="#e3262c" stroke="#2c0c1c" stroke-width="0.7"/>
<path transform="translate(361.8,233.8) rotate(-10.0) scale(0.948)" d="M0.6,-13.5 C-3,-10.6 -5.6,-6.6 -4.7,-2.5 C-3.9,0.8 -1,3.8 0.2,6.8 C1,9.2 0.8,11.5 0,13.5 C2.9,11.2 4.7,8 4.3,4.8 C3.9,1.5 0.7,-1.2 -0.4,-4.5 C-1.1,-7.5 -0.7,-11 0.6,-13.5 Z" fill="#e3262c" stroke="#2c0c1c" stroke-width="0.7"/>
<path transform="translate(378.8,236.6) rotate(-10.2) scale(0.922)" d="M0.6,-13.5 C-3,-10.6 -5.6,-6.6 -4.7,-2.5 C-3.9,0.8 -1,3.8 0.2,6.8 C1,9.2 0.8,11.5 0,13.5 C2.9,11.2 4.7,8 4.3,4.8 C3.9,1.5 0.7,-1.2 -0.4,-4.5 C-1.1,-7.5 -0.7,-11 0.6,-13.5 Z" fill="#e3262c" stroke="#2c0c1c" stroke-width="0.7"/>
<path transform="translate(392.7,223.9) rotate(-9.3) scale(0.907)" d="M0.6,-13.5 C-3,-10.6 -5.6,-6.6 -4.7,-2.5 C-3.9,0.8 -1,3.8 0.2,6.8 C1,9.2 0.8,11.5 0,13.5 C2.9,11.2 4.7,8 4.3,4.8 C3.9,1.5 0.7,-1.2 -0.4,-4.5 C-1.1,-7.5 -0.7,-11 0.6,-13.5 Z" fill="#e3262c" stroke="#2c0c1c" stroke-width="0.7"/>
<path transform="translate(401.9,240.9) rotate(-10.0) scale(0.941)" d="M0.6,-13.5 C-3,-10.6 -5.6,-6.6 -4.7,-2.5 C-3.9,0.8 -1,3.8 0.2,6.8 C1,9.2 0.8,11.5 0,13.5 C2.9,11.2 4.7,8 4.3,4.8 C3.9,1.5 0.7,-1.2 -0.4,-4.5 C-1.1,-7.5 -0.7,-11 0.6,-13.5 Z" fill="#e3262c" stroke="#2c0c1c" stroke-width="0.7"/>
<path transform="translate(419.8,250.8) rotate(-9.7) scale(0.974)" d="M0.6,-13.5 C-3,-10.6 -5.6,-6.6 -4.7,-2.5 C-3.9,0.8 -1,3.8 0.2,6.8 C1,9.2 0.8,11.5 0,13.5 C2.9,11.2 4.7,8 4.3,4.8 C3.9,1.5 0.7,-1.2 -0.4,-4.5 C-1.1,-7.5 -0.7,-11 0.6,-13.5 Z" fill="#e3262c" stroke="#2c0c1c" stroke-width="0.7"/>
<path transform="translate(434.6,245.7) rotate(-9.7) scale(0.974)" d="M0.6,-13.5 C-3,-10.6 -5.6,-6.6 -4.7,-2.5 C-3.9,0.8 -1,3.8 0.2,6.8 C1,9.2 0.8,11.5 0,13.5 C2.9,11.2 4.7,8 4.3,4.8 C3.9,1.5 0.7,-1.2 -0.4,-4.5 C-1.1,-7.5 -0.7,-11 0.6,-13.5 Z" fill="#e3262c" stroke="#2c0c1c" stroke-width="0.7"/>
<path transform="translate(366.2,261.7) rotate(-11.3) scale(0.926)" d="M0.6,-13.5 C-3,-10.6 -5.6,-6.6 -4.7,-2.5 C-3.9,0.8 -1,3.8 0.2,6.8 C1,9.2 0.8,11.5 0,13.5 C2.9,11.2 4.7,8 4.3,4.8 C3.9,1.5 0.7,-1.2 -0.4,-4.5 C-1.1,-7.5 -0.7,-11 0.6,-13.5 Z" fill="#e3262c" stroke="#2c0c1c" stroke-width="0.7"/>
<path transform="translate(390.0,261.7) rotate(-11.3) scale(0.926)" d="M0.6,-13.5 C-3,-10.6 -5.6,-6.6 -4.7,-2.5 C-3.9,0.8 -1,3.8 0.2,6.8 C1,9.2 0.8,11.5 0,13.5 C2.9,11.2 4.7,8 4.3,4.8 C3.9,1.5 0.7,-1.2 -0.4,-4.5 C-1.1,-7.5 -0.7,-11 0.6,-13.5 Z" fill="#e3262c" stroke="#2c0c1c" stroke-width="0.7"/>
<path transform="translate(413.5,274.4) rotate(-11.0) scale(0.956)" d="M0.6,-13.5 C-3,-10.6 -5.6,-6.6 -4.7,-2.5 C-3.9,0.8 -1,3.8 0.2,6.8 C1,9.2 0.8,11.5 0,13.5 C2.9,11.2 4.7,8 4.3,4.8 C3.9,1.5 0.7,-1.2 -0.4,-4.5 C-1.1,-7.5 -0.7,-11 0.6,-13.5 Z" fill="#e3262c" stroke="#2c0c1c" stroke-width="0.7"/>
<path transform="translate(382.3,278.8) rotate(-11.3) scale(0.926)" d="M0.6,-13.5 C-3,-10.6 -5.6,-6.6 -4.7,-2.5 C-3.9,0.8 -1,3.8 0.2,6.8 C1,9.2 0.8,11.5 0,13.5 C2.9,11.2 4.7,8 4.3,4.8 C3.9,1.5 0.7,-1.2 -0.4,-4.5 C-1.1,-7.5 -0.7,-11 0.6,-13.5 Z" fill="#e3262c" stroke="#2c0c1c" stroke-width="0.7"/>
<path transform="translate(426.8,301.1) rotate(-8.9) scale(0.941)" d="M0.6,-13.5 C-3,-10.6 -5.6,-6.6 -4.7,-2.5 C-3.9,0.8 -1,3.8 0.2,6.8 C1,9.2 0.8,11.5 0,13.5 C2.9,11.2 4.7,8 4.3,4.8 C3.9,1.5 0.7,-1.2 -0.4,-4.5 C-1.1,-7.5 -0.7,-11 0.6,-13.5 Z" fill="#e3262c" stroke="#2c0c1c" stroke-width="0.7"/>
<path transform="translate(401.5,304.8) rotate(-11.5) scale(0.907)" d="M0.6,-13.5 C-3,-10.6 -5.6,-6.6 -4.7,-2.5 C-3.9,0.8 -1,3.8 0.2,6.8 C1,9.2 0.8,11.5 0,13.5 C2.9,11.2 4.7,8 4.3,4.8 C3.9,1.5 0.7,-1.2 -0.4,-4.5 C-1.1,-7.5 -0.7,-11 0.6,-13.5 Z" fill="#e3262c" stroke="#2c0c1c" stroke-width="0.7"/>
<path transform="translate(588.3,94.8) rotate(-6.8) scale(0.933)" d="M0.6,-13.5 C-3,-10.6 -5.6,-6.6 -4.7,-2.5 C-3.9,0.8 -1,3.8 0.2,6.8 C1,9.2 0.8,11.5 0,13.5 C2.9,11.2 4.7,8 4.3,4.8 C3.9,1.5 0.7,-1.2 -0.4,-4.5 C-1.1,-7.5 -0.7,-11 0.6,-13.5 Z" fill="#e3262c" stroke="#2c0c1c" stroke-width="0.7"/>
<path transform="translate(536.7,134.2) rotate(-7.0) scale(0.907)" d="M0.6,-13.5 C-3,-10.6 -5.6,-6.6 -4.7,-2.5 C-3.9,0.8 -1,3.8 0.2,6.8 C1,9.2 0.8,11.5 0,13.5 C2.9,11.2 4.7,8 4.3,4.8 C3.9,1.5 0.7,-1.2 -0.4,-4.5 C-1.1,-7.5 -0.7,-11 0.6,-13.5 Z" fill="#e3262c" stroke="#2c0c1c" stroke-width="0.7"/>
<path transform="translate(495.5,146.2) rotate(-7.0) scale(0.900)" d="M0.6,-13.5 C-3,-10.6 -5.6,-6.6 -4.7,-2.5 C-3.9,0.8 -1,3.8 0.2,6.8 C1,9.2 0.8,11.5 0,13.5 C2.9,11.2 4.7,8 4.3,4.8 C3.9,1.5 0.7,-1.2 -0.4,-4.5 C-1.1,-7.5 -0.7,-11 0.6,-13.5 Z" fill="#e3262c" stroke="#2c0c1c" stroke-width="0.7"/>
<path transform="translate(504.8,161.9) rotate(-9.2) scale(0.915)" d="M0.6,-13.5 C-3,-10.6 -5.6,-6.6 -4.7,-2.5 C-3.9,0.8 -1,3.8 0.2,6.8 C1,9.2 0.8,11.5 0,13.5 C2.9,11.2 4.7,8 4.3,4.8 C3.9,1.5 0.7,-1.2 -0.4,-4.5 C-1.1,-7.5 -0.7,-11 0.6,-13.5 Z" fill="#e3262c" stroke="#2c0c1c" stroke-width="0.7"/>
<path transform="translate(515.3,159.9) rotate(-9.0) scale(0.937)" d="M0.6,-13.5 C-3,-10.6 -5.6,-6.6 -4.7,-2.5 C-3.9,0.8 -1,3.8 0.2,6.8 C1,9.2 0.8,11.5 0,13.5 C2.9,11.2 4.7,8 4.3,4.8 C3.9,1.5 0.7,-1.2 -0.4,-4.5 C-1.1,-7.5 -0.7,-11 0.6,-13.5 Z" fill="#e3262c" stroke="#2c0c1c" stroke-width="0.7"/>
<path transform="translate(499.0,174.9) rotate(-9.2) scale(0.915)" d="M0.6,-13.5 C-3,-10.6 -5.6,-6.6 -4.7,-2.5 C-3.9,0.8 -1,3.8 0.2,6.8 C1,9.2 0.8,11.5 0,13.5 C2.9,11.2 4.7,8 4.3,4.8 C3.9,1.5 0.7,-1.2 -0.4,-4.5 C-1.1,-7.5 -0.7,-11 0.6,-13.5 Z" fill="#e3262c" stroke="#2c0c1c" stroke-width="0.7"/>
<path transform="translate(491.6,189.7) rotate(-9.0) scale(0.937)" d="M0.6,-13.5 C-3,-10.6 -5.6,-6.6 -4.7,-2.5 C-3.9,0.8 -1,3.8 0.2,6.8 C1,9.2 0.8,11.5 0,13.5 C2.9,11.2 4.7,8 4.3,4.8 C3.9,1.5 0.7,-1.2 -0.4,-4.5 C-1.1,-7.5 -0.7,-11 0.6,-13.5 Z" fill="#e3262c" stroke="#2c0c1c" stroke-width="0.7"/>
<path transform="translate(241.2,93.7) rotate(-3.4) scale(0.941)" d="M0.6,-13.5 C-3,-10.6 -5.6,-6.6 -4.7,-2.5 C-3.9,0.8 -1,3.8 0.2,6.8 C1,9.2 0.8,11.5 0,13.5 C2.9,11.2 4.7,8 4.3,4.8 C3.9,1.5 0.7,-1.2 -0.4,-4.5 C-1.1,-7.5 -0.7,-11 0.6,-13.5 Z" fill="#d6d6d6" stroke="#404040" stroke-width="0.7"/>
<path transform="translate(245.8,144.3) rotate(-5.6) scale(0.937)" d="M0.6,-13.5 C-3,-10.6 -5.6,-6.6 -4.7,-2.5 C-3.9,0.8 -1,3.8 0.2,6.8 C1,9.2 0.8,11.5 0,13.5 C2.9,11.2 4.7,8 4.3,4.8 C3.9,1.5 0.7,-1.2 -0.4,-4.5 C-1.1,-7.5 -0.7,-11 0.6,-13.5 Z" fill="#d6d6d6" stroke="#404040" stroke-width="0.7"/>
<path transform="translate(502.5,97.8) rotate(-4.0) scale(0.793)" d="M0.6,-13.5 C-3,-10.6 -5.6,-6.6 -4.7,-2.5 C-3.9,0.8 -1,3.8 0.2,6.8 C1,9.2 0.8,11.5 0,13.5 C2.9,11.2 4.7,8 4.3,4.8 C3.9,1.5 0.7,-1.2 -0.4,-4.5 C-1.1,-7.5 -0.7,-11 0.6,-13.5 Z" fill="#d6d6d6" stroke="#404040" stroke-width="0.7"/>
<path transform="translate(518.2,94.8) rotate(-4.9) scale(0.867)" d="M0.6,-13.5 C-3,-10.6 -5.6,-6.6 -4.7,-2.5 C-3.9,0.8 -1,3.8 0.2,6.8 C1,9.2 0.8,11.5 0,13.5 C2.9,11.2 4.7,8 4.3,4.8 C3.9,1.5 0.7,-1.2 -0.4,-4.5 C-1.1,-7.5 -0.7,-11 0.6,-13.5 Z" fill="#d6d6d6" stroke="#404040" stroke-width="0.7"/>
<path transform="translate(537.5,99.3) rotate(-5.9) scale(0.904)" d="M0.6,-13.5 C-3,-10.6 -5.6,-6.6 -4.7,-2.5 C-3.9,0.8 -1,3.8 0.2,6.8 C1,9.2 0.8,11.5 0,13.5 C2.9,11.2 4.7,8 4.3,4.8 C3.9,1.5 0.7,-1.2 -0.4,-4.5 C-1.1,-7.5 -0.7,-11 0.6,-13.5 Z" fill="#d6d6d6" stroke="#404040" stroke-width="0.7"/>
<path transform="translate(549.7,93.7) rotate(-6.1) scale(0.867)" d="M0.6,-13.5 C-3,-10.6 -5.6,-6.6 -4.7,-2.5 C-3.9,0.8 -1,3.8 0.2,6.8 C1,9.2 0.8,11.5 0,13.5 C2.9,11.2 4.7,8 4.3,4.8 C3.9,1.5 0.7,-1.2 -0.4,-4.5 C-1.1,-7.5 -0.7,-11 0.6,-13.5 Z" fill="#d6d6d6" stroke="#404040" stroke-width="0.7"/>
<path transform="translate(569.0,97.8) rotate(-5.6) scale(0.941)" d="M0.6,-13.5 C-3,-10.6 -5.6,-6.6 -4.7,-2.5 C-3.9,0.8 -1,3.8 0.2,6.8 C1,9.2 0.8,11.5 0,13.5 C2.9,11.2 4.7,8 4.3,4.8 C3.9,1.5 0.7,-1.2 -0.4,-4.5 C-1.1,-7.5 -0.7,-11 0.6,-13.5 Z" fill="#d6d6d6" stroke="#404040" stroke-width="0.7"/>
<path transform="translate(487.7,109.5) rotate(-5.9) scale(0.904)" d="M0.6,-13.5 C-3,-10.6 -5.6,-6.6 -4.7,-2.5 C-3.9,0.8 -1,3.8 0.2,6.8 C1,9.2 0.8,11.5 0,13.5 C2.9,11.2 4.7,8 4.3,4.8 C3.9,1.5 0.7,-1.2 -0.4,-4.5 C-1.1,-7.5 -0.7,-11 0.6,-13.5 Z" fill="#d6d6d6" stroke="#404040" stroke-width="0.7"/>
<path transform="translate(525.9,111.0) rotate(-6.7) scale(0.941)" d="M0.6,-13.5 C-3,-10.6 -5.6,-6.6 -4.7,-2.5 C-3.9,0.8 -1,3.8 0.2,6.8 C1,9.2 0.8,11.5 0,13.5 C2.9,11.2 4.7,8 4.3,4.8 C3.9,1.5 0.7,-1.2 -0.4,-4.5 C-1.1,-7.5 -0.7,-11 0.6,-13.5 Z" fill="#d6d6d6" stroke="#404040" stroke-width="0.7"/>
<path transform="translate(519.2,134.4) rotate(-7.8) scale(0.941)" d="M0.6,-13.5 C-3,-10.6 -5.6,-6.6 -4.7,-2.5 C-3.9,0.8 -1,3.8 0.2,6.8 C1,9.2 0.8,11.5 0,13.5 C2.9,11.2 4.7,8 4.3,4.8 C3.9,1.5 0.7,-1.2 -0.4,-4.5 C-1.1,-7.5 -0.7,-11 0.6,-13.5 Z" fill="#d6d6d6" stroke="#404040" stroke-width="0.7"/>
<path transform="translate(504.6,123.8) rotate(-6.5) scale(0.981)" d="M0.6,-13.5 C-3,-10.6 -5.6,-6.6 -4.7,-2.5 C-3.9,0.8 -1,3.8 0.2,6.8 C1,9.2 0.8,11.5 0,13.5 C2.9,11.2 4.7,8 4.3,4.8 C3.9,1.5 0.7,-1.2 -0.4,-4.5 C-1.1,-7.5 -0.7,-11 0.6,-13.5 Z" fill="#d6d6d6" stroke="#404040" stroke-width="0.7"/>
<text x="69.2" y="17.8" font-size="18.5" fill="#000" text-anchor="start" >SW</text>
<text x="611.6" y="17.8" font-size="18.5" fill="#000" text-anchor="start" >NE</text>
<text x="184.8" y="32.7" font-size="16" fill="#000" text-anchor="start" textLength="189">Eastern Snake River Plain</text>
<text x="159.6" y="72.2" font-size="13.6" fill="#3a0a0a" text-anchor="start" >Basalt-rich crust</text>
<text x="497.8" y="57.7" font-size="15.9" fill="#d836d8" text-anchor="start" >Yellowstone</text>
<text x="293.2" y="100" font-size="16" fill="#606060" text-anchor="start" >Volcanic gap</text>
<text x="538.1" y="126.1" font-size="13.5" fill="#000" text-anchor="start" >Rhyolitic mush</text>
<text x="535.6" y="181.9" font-size="13.6" fill="#000" text-anchor="start" >Basaltic mush</text>
<text x="577.1" y="227.8" font-size="18.8" fill="#000" text-anchor="start" >Moho</text>
<text x="499.2" y="321.1" font-size="13.5" fill="#000" text-anchor="start" >No melt zone</text>
<text x="131.8" y="272.9" font-size="19" fill="#200404" text-anchor="start" >LAB</text>
<text x="221.8" y="317.5" font-size="13.6" fill="#240404" text-anchor="middle" >Primary melt moving</text>
<text x="219.9" y="332.8" font-size="13.5" fill="#240404" text-anchor="middle" >toward lithosphere</text>
<text x="248.7" y="515" font-size="13.5" fill="#222200" text-anchor="middle" >Eastward flow driven by</text>
<text x="249.7" y="531.7" font-size="13.4" fill="#222200" text-anchor="middle" >the sinking Farallon slab</text>
<line x1="84.1" y1="80" x2="84.1" y2="566" stroke="#111" stroke-width="1.5"/>
<path d="M84.1,573 L78,562.3 L84.1,565.5 L90.2,562.3 Z" fill="#000"/>
<line x1="75.2" y1="80.2" x2="84" y2="80.2" stroke="#111" stroke-width="1.3"/>
<text x="70.4" y="87.2" font-size="18.3" fill="#000" text-anchor="end" >0</text>
<line x1="79" y1="111.1" x2="84" y2="111.1" stroke="#111" stroke-width="1.3"/>
<line x1="75.2" y1="142.0" x2="84" y2="142.0" stroke="#111" stroke-width="1.3"/>
<text x="70.4" y="149.0" font-size="18.3" fill="#000" text-anchor="end" >20</text>
<line x1="79" y1="172.9" x2="84" y2="172.9" stroke="#111" stroke-width="1.3"/>
<line x1="75.2" y1="203.8" x2="84" y2="203.8" stroke="#111" stroke-width="1.3"/>
<text x="70.4" y="210.8" font-size="18.3" fill="#000" text-anchor="end" >40</text>
<line x1="79" y1="234.7" x2="84" y2="234.7" stroke="#111" stroke-width="1.3"/>
<line x1="75.2" y1="265.6" x2="84" y2="265.6" stroke="#111" stroke-width="1.3"/>
<text x="70.4" y="272.59999999999997" font-size="18.3" fill="#000" text-anchor="end" >60</text>
<line x1="79" y1="296.5" x2="84" y2="296.5" stroke="#111" stroke-width="1.3"/>
<line x1="75.2" y1="327.4" x2="84" y2="327.4" stroke="#111" stroke-width="1.3"/>
<text x="70.4" y="334.4" font-size="18.3" fill="#000" text-anchor="end" >80</text>
<line x1="79" y1="358.3" x2="84" y2="358.3" stroke="#111" stroke-width="1.3"/>
<line x1="75.2" y1="389.2" x2="84" y2="389.2" stroke="#111" stroke-width="1.3"/>
<text x="70.4" y="396.2" font-size="18.3" fill="#000" text-anchor="end" >100</text>
<line x1="79" y1="420.1" x2="84" y2="420.1" stroke="#111" stroke-width="1.3"/>
<line x1="75.2" y1="451.0" x2="84" y2="451.0" stroke="#111" stroke-width="1.3"/>
<text x="70.4" y="457.99999999999994" font-size="18.3" fill="#000" text-anchor="end" >120</text>
<line x1="79" y1="481.9" x2="84" y2="481.9" stroke="#111" stroke-width="1.3"/>
<line x1="75.2" y1="512.8" x2="84" y2="512.8" stroke="#111" stroke-width="1.3"/>
<text x="70.4" y="519.8" font-size="18.3" fill="#000" text-anchor="end" >140</text>
<text transform="translate(17.6,358.3) rotate(-90)" font-size="19" textLength="91.5" lengthAdjust="spacingAndGlyphs">Depth (km)</text>
<line x1="85" y1="40.5" x2="474" y2="40.5" stroke="#111" stroke-width="1.6"/>
<path d="M91.5,36.2 L85,40.5 L91.5,44.8" fill="none" stroke="#111" stroke-width="1.6"/>
<path d="M467.5,36.2 L474,40.5 L467.5,44.8" fill="none" stroke="#111" stroke-width="1.6"/>
<line x1="487" y1="68" x2="593" y2="68" stroke="#de3ade" stroke-width="2"/>
<path d="M494.5,64 L487,68 L494.5,72.3" fill="none" stroke="#de3ade" stroke-width="2"/>
<path d="M585.5,64 L593,68 L585.5,72.3" fill="none" stroke="#de3ade" stroke-width="2"/>
<rect x="462.5" y="420.7" width="162" height="123" fill="#fff" stroke="#111" stroke-width="1.5"/>
<path transform="translate(484.2,438) scale(0.763)" d="M0.6,-13.5 C-3,-10.6 -5.6,-6.6 -4.7,-2.5 C-3.9,0.8 -1,3.8 0.2,6.8 C1,9.2 0.8,11.5 0,13.5 C2.9,11.2 4.7,8 4.3,4.8 C3.9,1.5 0.7,-1.2 -0.4,-4.5 C-1.1,-7.5 -0.7,-11 0.6,-13.5 Z" fill="#cf2a2e" stroke="#5a1414" stroke-width="0.8"/>
<path transform="translate(484.2,468.7) scale(0.763)" d="M0.6,-13.5 C-3,-10.6 -5.6,-6.6 -4.7,-2.5 C-3.9,0.8 -1,3.8 0.2,6.8 C1,9.2 0.8,11.5 0,13.5 C2.9,11.2 4.7,8 4.3,4.8 C3.9,1.5 0.7,-1.2 -0.4,-4.5 C-1.1,-7.5 -0.7,-11 0.6,-13.5 Z" fill="#f6f6f6" stroke="#555" stroke-width="0.9"/>
<text x="513.2" y="443.4" font-size="13.4" fill="#000" text-anchor="start" >Basaltic melt</text>
<text x="513.2" y="474" font-size="13.4" fill="#000" text-anchor="start" >Rhyolitic melt</text>
<text x="513.2" y="497.3" font-size="13.4" fill="#000" text-anchor="start" >Melt migration</text>
<text x="513.7" y="512.6" font-size="13.4" fill="#000" text-anchor="start" >in the lithosphere</text>
<text x="513.2" y="536" font-size="13.4" fill="#000" text-anchor="start" >Mantle flow</text>
<line x1="468.4" y1="499.8" x2="490" y2="499.8" stroke="#000" stroke-width="2.8"/>
<path d="M499,499.8 L483.6,494.7 L487,499.8 L483.6,504.6 Z" fill="#000"/>
<line x1="468.4" y1="529.9" x2="490" y2="529.9" stroke="#888" stroke-width="2.8"/>
<path d="M499,529.9 L483.6,524.8 L487,529.9 L483.6,534.7 Z" fill="#888"/>
<rect x="125" y="586.8" width="293" height="10.4" fill="url(#cbarg)"/>
<path d="M125,597.3 L125,586.5 L418,586.5 L418,597.3" fill="none" stroke="#1a2030" stroke-width="1.1"/>
<line x1="124.5" y1="597.4" x2="418.5" y2="597.4" stroke="#1a2030" stroke-width="1.6"/>
<line x1="125.0" y1="597" x2="125.0" y2="606.3" stroke="#111" stroke-width="1.3"/>
<text x="125.0" y="627.5" font-size="18" fill="#000" text-anchor="middle" >0</text>
<line x1="173.8" y1="597" x2="173.8" y2="602.5" stroke="#111" stroke-width="1.3"/>
<line x1="222.7" y1="597" x2="222.7" y2="606.3" stroke="#111" stroke-width="1.3"/>
<text x="222.66" y="627.5" font-size="18" fill="#000" text-anchor="middle" >1</text>
<line x1="271.5" y1="597" x2="271.5" y2="602.5" stroke="#111" stroke-width="1.3"/>
<line x1="320.3" y1="597" x2="320.3" y2="606.3" stroke="#111" stroke-width="1.3"/>
<text x="320.32" y="627.5" font-size="18" fill="#000" text-anchor="middle" >2</text>
<line x1="369.1" y1="597" x2="369.1" y2="602.5" stroke="#111" stroke-width="1.3"/>
<line x1="418.0" y1="597" x2="418.0" y2="606.3" stroke="#111" stroke-width="1.3"/>
<text x="417.98" y="627.5" font-size="18" fill="#000" text-anchor="middle" >3</text>
<text x="143.3" y="577.3" font-size="18.3" fill="#000" text-anchor="start" >Normal</text>
<text x="233" y="577.3" font-size="17.7" fill="#000" text-anchor="start" >Strike-slip</text>
<text x="338.9" y="577.3" font-size="18" fill="#000" text-anchor="start" textLength="60.5" lengthAdjust="spacingAndGlyphs">Reverse</text>
<text x="454.9" y="581.3" font-size="19" fill="#000" text-anchor="start" >Relative stress</text>
<text x="453.7" y="603.6" font-size="19">magnitudes (A<tspan font-size="11.5" dy="4.5">ϕ</tspan><tspan dy="-4.5">)</tspan></text>
<text x="447.6" y="625.9" font-size="19" fill="#000" text-anchor="start" >in the lithosphere</text></svg>
</body></html>
